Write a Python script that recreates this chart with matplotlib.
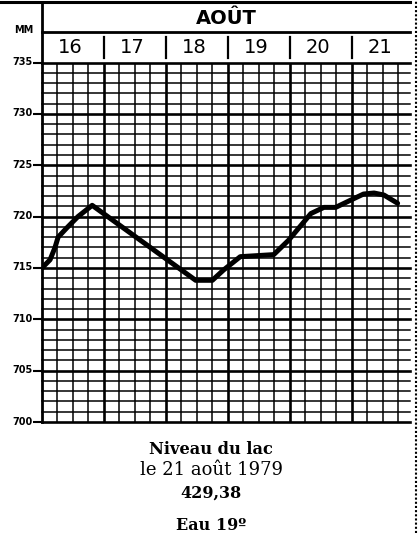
import numpy as np
import matplotlib
matplotlib.use("Agg")
import matplotlib.pyplot as plt
from matplotlib.lines import Line2D
from matplotlib.transforms import blended_transform_factory, ScaledTranslation

# ---- data ----
month_label = "AOÛT"
day_labels = ["16", "17", "18", "19", "20", "21"]
days = [0.0, 0.13, 0.21, 0.26, 0.40, 0.58, 0.81, 2.48, 2.75, 2.93, 3.20,
        3.74, 3.98, 4.34, 4.55, 4.74, 4.98, 5.19, 5.36, 5.52, 5.74]
levels = [715.0, 715.8, 717.0, 718.0, 718.9, 720.0, 721.1, 713.8, 713.8, 714.8,
          716.1, 716.3, 717.7, 720.3, 720.9, 720.9, 721.6, 722.2, 722.3, 722.1, 721.3]
y_ticks = [700, 705, 710, 715, 720, 725, 730, 735]
unit_label = "MM"
caption_lines = ["Niveau du lac", "le 21 août 1979", "429,38"]
footer = "Eau 19º"

W, H = 419, 533
fig = plt.figure(figsize=(W / 100, H / 100), dpi=100)
fig.patch.set_facecolor("white")

def fx(px):
    return px / W

def fy(py):
    return 1 - py / H

L, R, T, B = 42, 410, 62.6, 422
ax = fig.add_axes([fx(L), fy(B), (R - L) / W, (B - T) / H])
xmax = 5.94
ax.set_xlim(0, xmax)
ax.set_ylim(700, 735)

# grid
for v in range(700, 736):
    lw = 1.9 if v % 5 == 0 else 1.1
    ax.axhline(v, color="black", lw=lw, zorder=1, clip_on=False)
for q in np.arange(0.25, xmax, 0.25):
    lw = 1.9 if abs(q - round(q)) < 1e-6 else 1.1
    ax.axvline(q, color="black", lw=lw, zorder=1)

for s in ["top", "right", "bottom"]:
    ax.spines[s].set_visible(False)
ax.spines["left"].set_linewidth(2.0)
ax.set_xticks([])
ax.set_yticks(y_ticks)
ax.set_yticklabels([str(t) for t in y_ticks])
ax.tick_params(axis="y", length=6.5, width=1.5, pad=0.3, labelsize=7, direction="out")
for lab in ax.get_yticklabels():
    lab.set_fontweight("bold")
    lab.set_transform(lab.get_transform() + ScaledTranslation(0, 1.5 / 100, fig.dpi_scale_trans))

# curve
ax.plot(days, levels, color="black", lw=3.6, solid_joinstyle="round",
        solid_capstyle="round", zorder=5)

# header
bt = blended_transform_factory(ax.transData, fig.transFigure)
fig.add_artist(Line2D([fx(0), fx(R)], [fy(1.5), fy(1.5)], color="black", lw=2.2))
fig.add_artist(Line2D([fx(L), fx(R)], [fy(32), fy(32)], color="black", lw=2.0))
fig.add_artist(Line2D([fx(L), fx(L)], [fy(1.5), fy(T)], color="black", lw=2.0))
for d in range(1, len(day_labels)):
    ax.add_artist(Line2D([d, d], [fy(37), fy(58)], transform=bt, color="black",
                         lw=1.6, clip_on=False))
for i, lab in enumerate(day_labels):
    ax.text(i + 0.46, fy(47.5), lab, transform=bt, ha="center", va="center",
            fontsize=14, family="DejaVu Sans", clip_on=False)
fig.text(fx((L + R) / 2), fy(18), month_label, ha="center", va="center",
         fontsize=14, fontweight="bold", family="DejaVu Sans")
fig.text(fx(24), fy(30), unit_label, ha="center", va="center", fontsize=7,
         fontweight="bold", family="DejaVu Sans")

# right dotted border
fig.add_artist(Line2D([fx(416), fx(416)], [0, 1], color="black", lw=1.5,
                      linestyle=(0, (1, 1))))

# captions
cx = fx(211)
fig.text(cx, fy(450), caption_lines[0], ha="center", va="center", fontsize=11.7,
         fontweight="bold", family="DejaVu Serif")
fig.text(cx, fy(470), caption_lines[1], ha="center", va="center", fontsize=13,
         family="DejaVu Serif")
fig.text(cx, fy(493), caption_lines[2], ha="center", va="center", fontsize=11.5,
         fontweight="bold", family="DejaVu Serif")
fig.text(cx, fy(530.5), footer, ha="center", va="baseline", fontsize=11.5,
         fontweight="bold", family="DejaVu Serif")

fig.savefig("out.png", dpi=100, facecolor="white")
